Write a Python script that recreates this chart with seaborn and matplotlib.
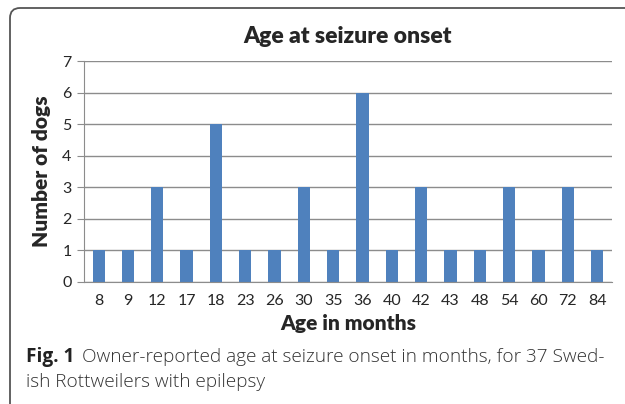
import matplotlib
matplotlib.use("Agg")
import matplotlib.pyplot as plt
from matplotlib.patches import FancyBboxPatch
import seaborn as sns
import pandas as pd

ages = ["8", "9", "12", "17", "18", "23", "26", "30", "35", "36",
        "40", "42", "43", "48", "54", "60", "72", "84"]
dogs = [1, 1, 3, 1, 5, 1, 1, 3, 1, 6, 1, 3, 1, 1, 3, 1, 3, 1]

df = pd.DataFrame({"age": ages, "dogs": dogs})

sns.set_style("white")
plt.rcParams["font.family"] = ["Lato", "DejaVu Sans"]

fig = plt.figure(figsize=(6.25, 4.04), dpi=100)
ax = fig.add_axes([0.1344, 0.3032, 0.8446, 0.5458])

sns.barplot(data=df, x="age", y="dogs", order=ages, color="#4F81BD",
            saturation=1, width=0.42, linewidth=0, ax=ax)

ax.set_ylim(0, 7)
ax.set_yticks(range(0, 8))
ax.yaxis.grid(True, color="#8c8c8c", lw=1)
ax.set_axisbelow(True)
for s in ["top", "right"]:
    ax.spines[s].set_visible(False)
ax.spines["left"].set_color("#8c8c8c")
ax.spines["bottom"].set_color("#8c8c8c")
ax.tick_params(axis="y", length=5, color="#8c8c8c", labelsize=11.5, pad=4, left=True)
ax.tick_params(axis="x", length=0, labelsize=11.5, pad=9)

ax.set_title("Age at seizure onset", fontsize=16.5, fontweight="heavy", pad=13)
ax.set_xlabel("Age in months", fontsize=15, fontweight="heavy", labelpad=4)
ax.set_ylabel("Number of dogs", fontsize=15, fontweight="heavy", labelpad=8)

# border around the figure (top and left only visible)
border = FancyBboxPatch((10, -30), 700, 404 - 8 + 30,
                        boxstyle="round,pad=0,rounding_size=10",
                        transform=None, fill=False, ec="#555555", lw=1.3)
fig.patches.append(border)

cap_font = ["Open Sans", "DejaVu Sans"]
t1 = fig.text(26 / 625, 1 - 357 / 404, "Fig. 1", fontsize=13.7, fontweight="bold",
              family=cap_font, color="#222222", va="center")
fig.canvas.draw()
bb = t1.get_window_extent()
fig.text((bb.x1 + 8) / 625, 1 - 357 / 404,
         "Owner-reported age at seizure onset in months, for 37 Swed-",
         fontsize=13.7, fontweight="light", family=cap_font, color="#333333", va="center")
fig.text(26 / 625, 1 - 382 / 404, "ish Rottweilers with epilepsy",
         fontsize=13.7, fontweight="light", family=cap_font, color="#333333", va="center")

fig.savefig("out.png", dpi=100)
